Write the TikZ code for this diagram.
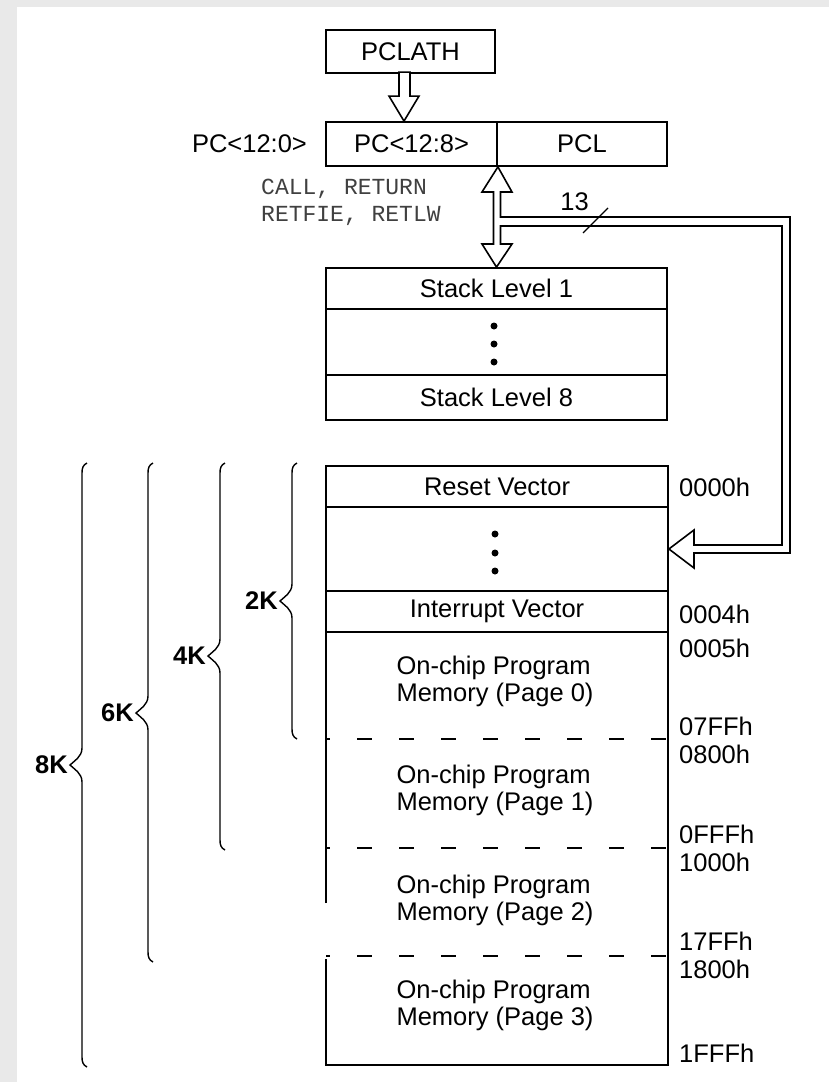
\documentclass[tikz,border=0pt]{standalone}
\usepackage{fontspec}
\setmainfont{Liberation Sans}
\setmonofont{Liberation Mono}
\usetikzlibrary{positioning,calc}
\definecolor{bordo}{RGB}{233,233,233}
% graffa: x, alto, basso, centro, etichetta
\newcommand{\graffa}[5]{%
  \draw[kbr] (#1+5,#2) .. controls (#1+1,#2+2) and (#1,#2+5) .. (#1,#2+10)
    -- (#1,#4-17) .. controls (#1,#4-8) and (#1-8,#4-4) .. (#1-12,#4)
    .. controls (#1-8,#4+4) and (#1,#4+8) .. (#1,#4+17)
    -- (#1,#3-10) .. controls (#1,#3-5) and (#1+1,#3-2) .. (#1+5,#3);
  \node[klab] (k#5) at (#1-14,#4) {#5K};}

\begin{document}
\begin{tikzpicture}[x=1pt,y=-1pt,
    reg/.style={draw, line width=1.8pt, inner sep=0pt, minimum height=44pt},
    mem/.style={draw, line width=1.8pt, inner sep=0pt, minimum width=342pt},
    bus/.style={draw, fill=white, line width=1.6pt, line join=miter},
    addr/.style={anchor=west, inner sep=0pt},
    kbr/.style={line width=1.4pt},
    klab/.style={anchor=east, inner sep=0pt, font=\fontsize{25.5}{27}\selectfont\bfseries},
    pagina/.style={align=left, inner sep=0pt},
    font=\fontsize{25.5}{27}\selectfont]
    %sfondo
        \fill[bordo] (0,0) rectangle (829,1082);
        \fill[white] (17,7) rectangle (829,1082);
        \useasboundingbox (0,0) rectangle (829,1082);
    %disegno registri
        \node[reg, minimum width=169pt, minimum height=43pt] (pclath) at (410.5,51.5) {PCLATH};
        \node[reg, minimum width=171pt] (pch) at (411.5,144) {PC<12:8>};
        \node[reg, minimum width=170pt] (pcl) at (582,144) {PCL};
        \node[left=18pt of pch, inner sep=0pt] (pcfull) {PC<12:0>};
        \node[anchor=west, align=left, inner sep=0pt, text=black!75,
            font=\ttfamily\fontsize{23}{27}\selectfont] (istr) at (261,202.5) {CALL, RETURN\\RETFIE, RETLW};
    %disegno stack
        \node[mem, minimum width=341pt, minimum height=41pt] (stk1) at (496.5,288.5) {Stack Level 1};
        \node[mem, minimum width=341pt, minimum height=66pt] (stkdots) at (496.5,342) {};
        \node[mem, minimum width=341pt, minimum height=45pt] (stk8) at (496.5,397.5) {Stack Level 8};
        \foreach \y in {326,344,362} \fill (494,\y) circle (3.5pt);
    %disegno memoria
        \node[mem, minimum height=41pt] (reset) at (497,486.5) {Reset Vector};
        \node[mem, minimum height=84pt] (memdots) at (497,549) {};
        \node[mem, minimum height=41pt] (intv) at (497,611.5) {Interrupt Vector};
        \foreach \y in {534,553,571} \fill (495,\y) circle (3.5pt);
        \draw[line width=1.8pt] (326,903) -- (326,632) -- (668,632) -- (668,1065) -- (326,1065) -- (326,959);
        \foreach \y in {739,848,956}
            \draw[line width=1.8pt, dash pattern=on 15pt off 27pt, dash phase=11pt] (326,\y) -- (668,\y);
        \foreach \n/\y in {0/681.5,1/790.5,2/900,3/1005.5}
            \node[pagina] (pag\n) at (495,\y) {On-chip Program\\Memory (Page \n)};
    %indirizzi
        \foreach \a/\y in {0000h/487,0004h/614,0005h/648,07FFh/726,0800h/754,0FFFh/834,1000h/862,17FFh/941,1800h/969,1FFFh/1053}
            \node[addr] (a\a) at (679,\y) {\a};
    %frecce
        \draw[bus] ($(pch.north)+(-7.5,0)$) -- ++(15,-25) -- ++(-9,0) -- ++(0,-24) -- ++(-11,0) -- ++(0,24) -- ++(-10,0) -- cycle;
        \draw[bus] (pch.south east) -- (512,192) -- (500.5,192) -- (500.5,217) -- (790,217) -- (790,553)
            -- (694,553) -- (694,568) -- (memdots.east) -- (694,530) -- (694,545) -- (782,545) -- (782,226)
            -- (500.5,226) -- (500.5,244) -- (512,244) -- (stk1.north) -- (482,244) -- (493.5,244)
            -- (493.5,192) -- (482,192) -- cycle;
        \node[inner sep=0pt] (bitn) at (574.5,202) {13};
        \draw[line width=1.2pt] (583,233) -- (608,208);
    %graffe
        \graffa{292}{463}{739}{601}{2}
        \graffa{220}{463}{850}{656}{4}
        \graffa{148}{463}{962}{713}{6}
        \graffa{82}{463}{1067}{765}{8}
\end{tikzpicture}
\end{document}
